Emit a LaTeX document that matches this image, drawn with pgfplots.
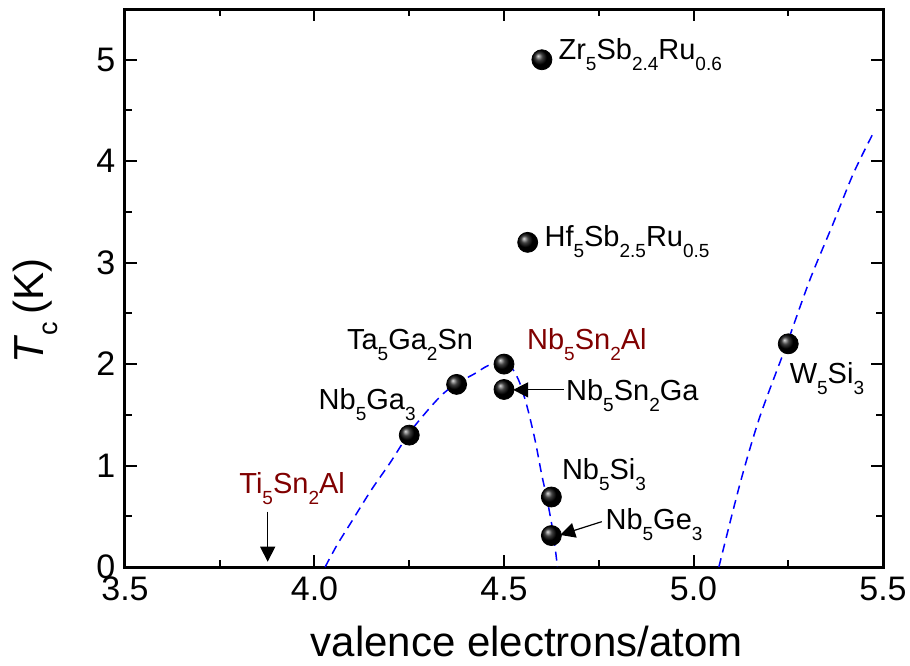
\documentclass[border=0pt]{standalone}
\usepackage{fontspec}
\setmainfont{Liberation Sans}
\usepackage{pgfplots}
\pgfplotsset{compat=1.18}
\usetikzlibrary{arrows.meta}
\definecolor{tcred}{RGB}{128,0,0}
\newcommand\sub[1]{\raisebox{-5.5pt}{\fontsize{9.5}{10}\selectfont #1}}
\begin{document}
\begin{tikzpicture}
\begin{axis}[
    scale only axis,
    width=379pt, height=279pt,
    xmin=3.5, xmax=5.5,
    ymin=0, ymax=5.5,
    xtick={3.5,4.0,4.5,5.0,5.5},
    ytick={0,1,2,3,4,5},
    minor x tick num=1,
    minor y tick num=1,
    tick align=inside,
    major tick length=6pt,
    minor tick length=3.5pt,
    axis line style={line width=1.5pt},
    every tick/.append style={line width=1pt, black},
    ticklabel style={font=\fontsize{17}{20}\selectfont},
    /pgf/number format/assume math mode=true,
    x tick label style={/pgf/number format/fixed, /pgf/number format/fixed zerofill, /pgf/number format/precision=1, yshift=-1.5pt},
    y tick label style={xshift=-1.3pt},
    xlabel={valence electrons/atom},
    xlabel style={font=\fontsize{21}{24}\selectfont, at={(axis description cs:0.53,-0.161)}, anchor=base},
    ylabel={\textit{T}\raisebox{-7pt}{\fontsize{13.5}{14}\selectfont c}\,(K)},
    ylabel style={font=\fontsize{21}{24}\selectfont, at={(axis description cs:-0.108,0.459)}, anchor=base},
]
% dashed guide curves
\addplot[blue, line width=0.75pt, dash pattern=on 4.5pt off 3pt, smooth, tension=0.5] coordinates {
    (4.028,0) (4.06,0.22) (4.10,0.46) (4.15,0.76) (4.20,1.03) (4.25,1.32)
    (4.30,1.55) (4.34,1.71) (4.38,1.82) (4.42,1.90) (4.45,1.97) (4.47,2.005)
    (4.488,2.025) (4.503,2.02) (4.515,1.99) (4.528,1.92) (4.542,1.81)
    (4.561,1.58) (4.582,1.25) (4.599,0.92) (4.614,0.66) (4.630,0.33) (4.641,0)
};
\addplot[blue, line width=0.75pt, dash pattern=on 4.5pt off 3pt, smooth] coordinates {
    (5.067,0) (5.123,0.825) (5.175,1.48) (5.247,2.206) (5.307,2.83)
    (5.369,3.39) (5.422,3.88) (5.476,4.29)
};
% compounds
\addplot[only marks, mark=ball, mark size=5pt, mark options={ball color=black}, ball color=black] coordinates {
    (4.25,1.3) (4.375,1.8) (4.5,2.0) (4.5,1.75) (4.625,0.69) (4.625,0.31)
    (4.6,5.0) (4.5625,3.2) (5.25,2.2)
};
\begin{scope}[every node/.style={font=\fontsize{14.5}{16}\selectfont, inner sep=0pt, anchor=base west}]
\node at (axis cs:4.643,5.0) {Zr\sub{5}Sb\sub{2.4}Ru\sub{0.6}};
\node at (axis cs:4.606,3.16) {Hf\sub{5}Sb\sub{2.5}Ru\sub{0.5}};
\node at (axis cs:4.085,2.147) {Ta\sub{5}Ga\sub{2}Sn};
\node[text=tcred] at (axis cs:4.560,2.147) {Nb\sub{5}Sn\sub{2}Al};
\node at (axis cs:4.010,1.548) {Nb\sub{5}Ga\sub{3}};
\node at (axis cs:4.663,1.640) {Nb\sub{5}Sn\sub{2}Ga};
\node at (axis cs:4.652,0.858) {Nb\sub{5}Si\sub{3}};
\node at (axis cs:4.767,0.365) {Nb\sub{5}Ge\sub{3}};
\node at (axis cs:5.253,1.81) {W\sub{5}Si\sub{3}};
\node[text=tcred] at (axis cs:3.8008,0.727) {Ti\sub{5}Sn\sub{2}Al};
\end{scope}
\begin{scope}[line width=0.6pt, -{Triangle[length=7.5pt,width=7.5pt]}]
\draw (axis cs:3.8765,0.545) -- (axis cs:3.8765,0.052);
\draw (axis cs:4.657,1.746) -- (axis cs:4.524,1.746);
\draw (axis cs:4.758,0.447) -- (axis cs:4.648,0.316);
\end{scope}
\end{axis}
\pgfresetboundingbox
\path[use as bounding box] (-62.5pt,-49pt) rectangle (392.5pt,283.5pt);
\end{tikzpicture}
\end{document}
